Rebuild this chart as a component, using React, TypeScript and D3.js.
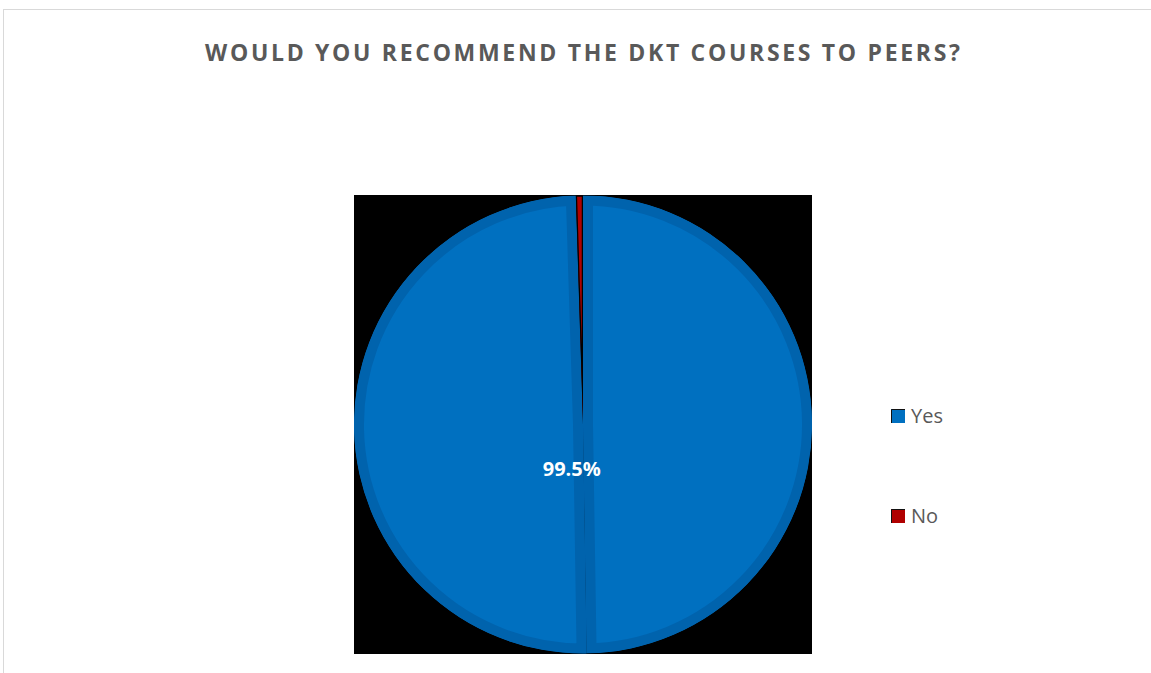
import * as d3 from 'd3'

const categories = ['Yes', 'No']
const values = [99.5, 0.5]
const labels = ['99.5%', '']
const fills = ['#0070C0', '#B00000']
const edges = ['#0063AD', '#000000']

const title = 'WOULD YOU RECOMMEND THE DKT COURSES TO PEERS?'

type Piece = {i: number; startAngle: number; endAngle: number}

export default function App() {
  const width = 1151
  const height = 673

  const plot = {x: 354, y: 195, w: 458, h: 459}
  const cx = plot.x + plot.w / 2
  const cy = plot.y + plot.h / 2
  const radius = 229

  const slices = d3.pie<number>().sort(null).value(d => d)(values)
  const arc = d3.arc<{startAngle: number; endAngle: number}>().innerRadius(0).outerRadius(radius)
  const labelArc = d3.arc<{startAngle: number; endAngle: number}>().innerRadius(45).outerRadius(45)

  // excel bevels the big slice as two halves, which leaves the seam at the bottom
  const pieces: Piece[] = []
  slices.forEach((s, i) => {
    if (s.endAngle - s.startAngle > Math.PI) {
      const mid = (s.startAngle + s.endAngle) / 2
      pieces.push({i, startAngle: s.startAngle, endAngle: mid})
      pieces.push({i, startAngle: mid, endAngle: s.endAngle})
    } else {
      pieces.push({i, startAngle: s.startAngle, endAngle: s.endAngle})
    }
  })

  const legendY = d3.scalePoint<string>().domain(categories).range([416, 516])

  return (
    <svg
      width={width}
      height={height}
      style={{position: 'absolute', left: 0, top: 0}}
      fontFamily={'Open Sans'}
    >
      <rect x={0} y={0} width={width} height={height} fill={'#fff'} />
      <rect x={3.5} y={9.5} width={1200} height={720} fill={'#fff'} stroke={'#d9d9d9'} />

      <text
        x={205}
        y={61}
        fontSize={23}
        fontWeight={700}
        fill={'#595959'}
        textLength={755}
        lengthAdjust={'spacing'}
      >
        {title}
      </text>

      <defs>
        <clipPath id={'plot-clip'}>
          <rect x={plot.x} y={plot.y} width={plot.w} height={plot.h} />
        </clipPath>
        {pieces.map((p, k) => (
          <clipPath key={k} id={`piece-${k}`}>
            <path d={arc(p) ?? undefined} />
          </clipPath>
        ))}
      </defs>

      <rect x={plot.x} y={plot.y} width={plot.w} height={plot.h} fill={'#000'} />

      <g clipPath={'url(#plot-clip)'}>
        <g transform={`translate(${cx}, ${cy})`}>
          {pieces.map((p, k) => (
            <path
              key={k}
              d={arc(p) ?? undefined}
              fill={fills[p.i]}
              stroke={edges[p.i]}
              strokeWidth={p.i === 0 ? 20 : 2.5}
              clipPath={`url(#piece-${k})`}
            />
          ))}
        </g>
      </g>

      <g transform={`translate(${cx}, ${cy})`}>
        {slices.map((s, i) => {
          if (!labels[i]) return null
          const [lx, ly] = labelArc.centroid(s)
          return (
            <text
              key={i}
              x={lx - 12}
              y={ly + 7}
              textAnchor={'middle'}
              fontSize={20}
              fontWeight={700}
              fill={'#fff'}
            >
              {labels[i]}
            </text>
          )
        })}
      </g>

      <g>
        {categories.map((c, i) => {
          const y = legendY(c) ?? 0
          return (
            <g key={c}>
              <rect x={891} y={y - 7} width={14} height={14} fill={fills[i]} />
              <path d={`M${891.5},${y + 7}V${y - 6.5}H${905}`} fill={'none'} stroke={'#111'} strokeWidth={1} />
              <text x={911} y={y + 7} fontSize={20} fill={'#595959'}>
                {c}
              </text>
            </g>
          )
        })}
      </g>
    </svg>
  )
}
